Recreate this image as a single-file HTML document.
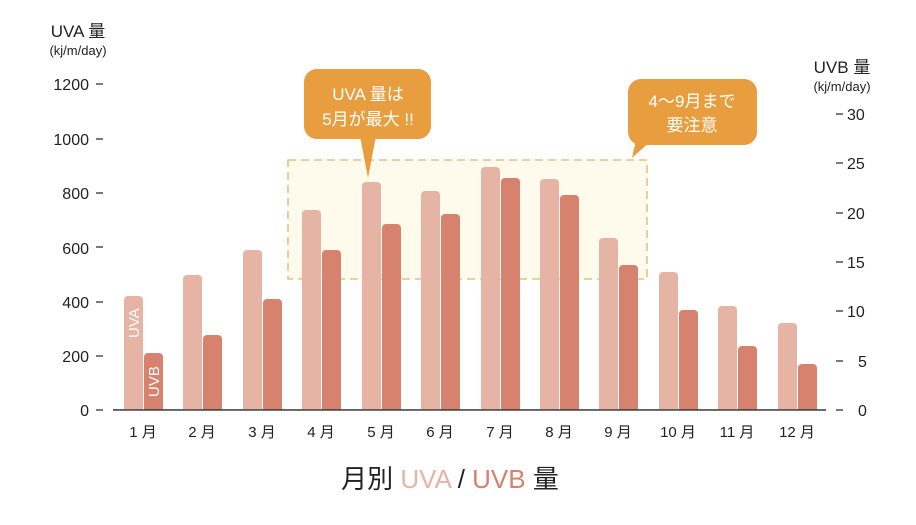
<!DOCTYPE html>
<html><head><meta charset="utf-8"><style>
body{margin:0;background:#fff}
text{font-family:"Liberation Sans","Noto Sans CJK JP",sans-serif;fill:#222}
</style></head><body>
<svg width="916" height="520" viewBox="0 0 916 520" xmlns="http://www.w3.org/2000/svg">
<rect width="916" height="520" fill="#fff"/>
<rect x="288" y="160" width="359" height="119" fill="#fefbec" stroke="#e3b26a" stroke-width="1.3" stroke-dasharray="8,5"/>
<g font-size="15">
<text x="78" y="37" text-anchor="middle" font-size="17">UVA 量</text>
<text x="78" y="55" text-anchor="middle" font-size="13">(kj/m/day)</text>
<text x="842" y="73" text-anchor="middle" font-size="17">UVB 量</text>
<text x="842" y="91" text-anchor="middle" font-size="13">(kj/m/day)</text>
</g>
<g font-size="16" text-anchor="end">
<text x="89" y="90">1200</text><text x="89" y="145">1000</text><text x="89" y="199">800</text>
<text x="89" y="254">600</text><text x="89" y="308">400</text><text x="89" y="362">200</text><text x="89" y="416">0</text>
</g>
<g stroke="#222" stroke-width="1.2">
<line x1="96" y1="84" x2="103" y2="84"/><line x1="96" y1="139" x2="103" y2="139"/><line x1="96" y1="193" x2="103" y2="193"/>
<line x1="96" y1="247" x2="103" y2="247"/><line x1="96" y1="302" x2="103" y2="302"/><line x1="96" y1="356" x2="103" y2="356"/><line x1="96" y1="410" x2="103" y2="410"/>
<line x1="836" y1="114" x2="843" y2="114"/><line x1="836" y1="163" x2="843" y2="163"/><line x1="836" y1="213" x2="843" y2="213"/>
<line x1="836" y1="262" x2="843" y2="262"/><line x1="836" y1="311" x2="843" y2="311"/><line x1="836" y1="361" x2="843" y2="361"/><line x1="836" y1="410" x2="843" y2="410"/>
<line x1="113" y1="410" x2="826" y2="410"/>
</g>
<g font-size="16">
<text x="847" y="120">30</text><text x="847" y="169">25</text><text x="847" y="219">20</text>
<text x="847" y="268">15</text><text x="847" y="317">10</text><text x="858" y="367">5</text><text x="858" y="416">0</text>
</g>
<g id="bars"></g>
<g fill="#e6b4a4">
<rect x="124" y="296" width="19" height="118" rx="4"/><rect x="183" y="275" width="19" height="139" rx="4"/>
<rect x="243" y="250" width="19" height="164" rx="4"/><rect x="302" y="210" width="19" height="204" rx="4"/>
<rect x="362" y="182" width="19" height="232" rx="4"/><rect x="421" y="191" width="19" height="223" rx="4"/>
<rect x="481" y="167" width="19" height="247" rx="4"/><rect x="540" y="179" width="19" height="235" rx="4"/>
<rect x="599" y="238" width="19" height="176" rx="4"/><rect x="659" y="272" width="19" height="142" rx="4"/>
<rect x="718" y="306" width="19" height="108" rx="4"/><rect x="778" y="323" width="19" height="91" rx="4"/>
</g>
<g fill="#d6826e">
<rect x="144" y="353" width="19" height="61" rx="4"/><rect x="203" y="335" width="19" height="79" rx="4"/>
<rect x="263" y="299" width="19" height="115" rx="4"/><rect x="322" y="250" width="19" height="164" rx="4"/>
<rect x="382" y="224" width="19" height="190" rx="4"/><rect x="441" y="214" width="19" height="200" rx="4"/>
<rect x="501" y="178" width="19" height="236" rx="4"/><rect x="560" y="195" width="19" height="219" rx="4"/>
<rect x="619" y="265" width="19" height="149" rx="4"/><rect x="679" y="310" width="19" height="104" rx="4"/>
<rect x="738" y="346" width="19" height="68" rx="4"/><rect x="798" y="364" width="19" height="50" rx="4"/>
</g>
<rect x="110" y="410" width="720" height="6" fill="#fff"/>
<line x1="113" y1="410" x2="826" y2="410" stroke="#222" stroke-width="1.2"/>
<text transform="translate(139,338) rotate(-90)" font-size="15" style="fill:#fff">UVA</text>
<text transform="translate(159,397) rotate(-90)" font-size="15" style="fill:#fff">UVB</text>
<g font-size="15" text-anchor="middle">
<text x="143" y="437">1 月</text><text x="202" y="437">2 月</text><text x="262" y="437">3 月</text>
<text x="321" y="437">4 月</text><text x="381" y="437">5 月</text><text x="440" y="437">6 月</text>
<text x="500" y="437">7 月</text><text x="559" y="437">8 月</text><text x="618" y="437">9 月</text>
<text x="678" y="437">10 月</text><text x="737" y="437">11 月</text><text x="797" y="437">12 月</text>
</g>
<g fill="#e89d3e">
<rect x="304" y="69" width="127" height="70" rx="13"/>
<polygon points="360,136 376,136 368,178"/>
<rect x="628" y="79" width="129" height="66" rx="13"/>
<polygon points="636,140 652,140 632,158"/>
</g>
<g font-size="17" text-anchor="middle" style="fill:#fff">
<text x="368" y="100" style="fill:#fff">UVA 量は</text>
<text x="368" y="125" style="fill:#fff">5月が最大 !!</text>
<text x="692" y="107" style="fill:#fff">4～9月まで</text>
<text x="692" y="131" style="fill:#fff">要注意</text>
</g>
<text x="450" y="488" text-anchor="middle" font-size="26">月別 <tspan style="fill:#e6b4a4">UVA</tspan> / <tspan style="fill:#d6826e">UVB</tspan> 量</text>
</svg>
</body></html>
